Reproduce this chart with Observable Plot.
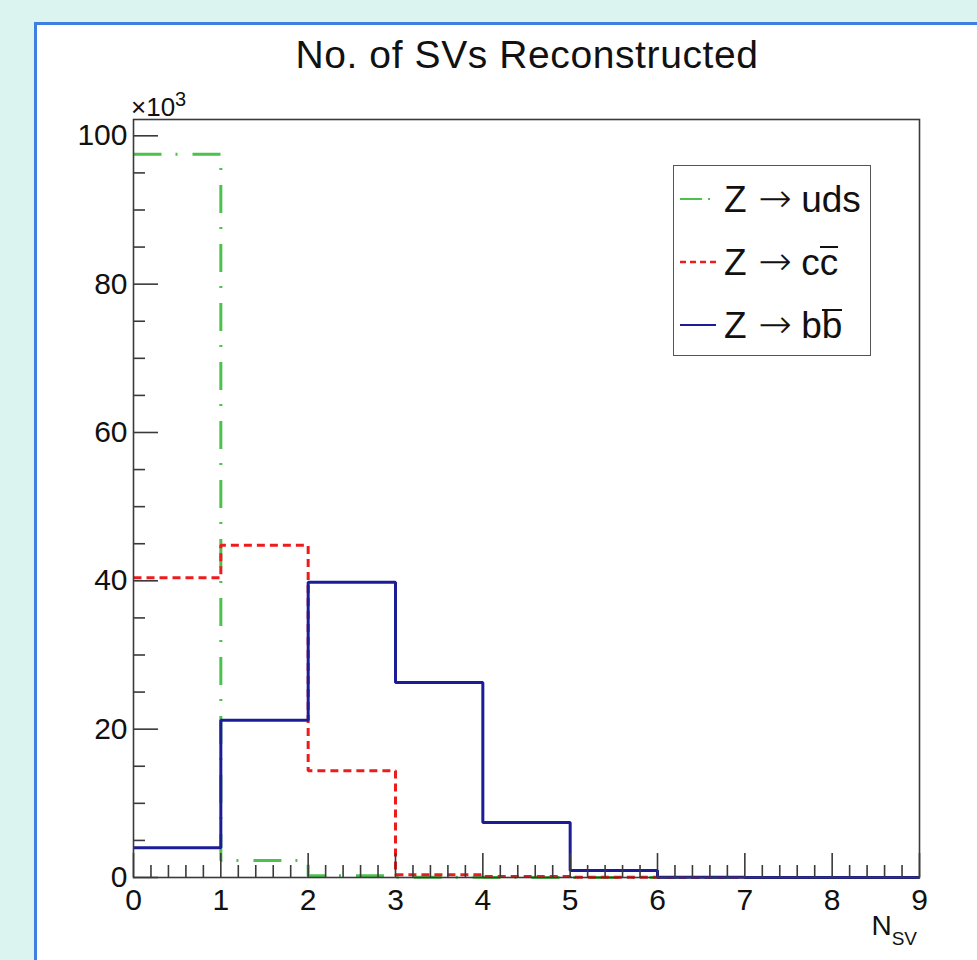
<!DOCTYPE html>
<html>
<head>
<meta charset="utf-8">
<script src="https://cdn.jsdelivr.net/npm/d3@7"></script>
<script src="https://cdn.jsdelivr.net/npm/@observablehq/plot@0.6"></script>
<style>
  html, body { margin: 0; padding: 0; }
  body { width: 977px; height: 960px; overflow: hidden; background: #dcf4f0; position: relative;
         font-family: "Liberation Sans", Arial, sans-serif; color: #111; }
  #panel { position: absolute; left: 34px; top: 22px; width: 1000px; height: 1000px;
           background: #fff; border: 3px solid #3f7fe2; box-sizing: border-box; }
  #chart { position: absolute; left: 0; top: 0; }
  .title { position: absolute; left: 0; width: 1054px; top: 35px; text-align: center;
           font-size: 39px; line-height: 39px; letter-spacing: 0.6px; }
  .mult { position: absolute; left: 131px; top: 94px; font-size: 26px; line-height: 26px; }
  .mult sup { font-size: 20px; position: relative; top: -8px; vertical-align: top; }
  .xlabel { position: absolute; right: 60px; top: 912px; font-size: 28px; line-height: 28px; }
  .xlabel sub { font-size: 19px; vertical-align: baseline; position: relative; top: 10px; }
  #legend { position: absolute; left: 673px; top: 165px; width: 198px; height: 191px;
            border: 1.5px solid #555; box-sizing: border-box; background: #fff; }
  .row { position: absolute; left: 0; height: 63px; display: flex; align-items: center; }
  .row svg { margin-left: 6px; margin-right: 8px; }
  .row span.t { font-size: 37px; line-height: 37px; white-space: nowrap; }
  .arr { font-family: "DejaVu Sans ExtraLight", "DejaVu Sans", sans-serif; font-weight: 200;
         font-size: 40px; margin-left: 12px; margin-right: 9px; }
  .ov { display: inline-block; border-top: 2px solid #111; line-height: 0.8em; }
</style>
</head>
<body>
<div id="panel"></div>
<div id="chart"></div>
<div class="title">No. of SVs Reconstructed</div>
<div class="mult">×10<sup>3</sup></div>
<div class="xlabel">N<sub>SV</sub></div>
<div id="legend"></div>
<script>
// ---- data (counts in thousands) ----
const binEdges = [0, 1, 2, 3, 4, 5, 6, 7, 8, 9];
const udsCounts = [97.5, 2.3, 0.22, 0.04, 0.01, 0, 0, 0, 0];
const ccCounts  = [40.4, 44.8, 14.4, 0.38, 0.15, 0.03, 0, 0, 0];
const bbCounts  = [4.0, 21.2, 39.8, 26.3, 7.4, 0.95, 0.03, 0, 0];
const seriesNames = ["Z → uds", "Z → cc̄", "Z → bb̄"];
const xTickLabels = [0, 1, 2, 3, 4, 5, 6, 7, 8, 9];
const yTickLabels = [0, 20, 40, 60, 80, 100];

const xMinor = d3.range(0, 9.0001, 0.2).filter(v => Math.abs(v - Math.round(v)) > 1e-6);
const yMinor = d3.range(0, 100.001, 5).filter(v => v % 20 !== 0);

function steps(counts) {
  const pts = counts.map((v, i) => ({x: binEdges[i], y: v}));
  pts.push({x: binEdges[counts.length], y: counts[counts.length - 1]});
  return pts;
}

const green = "#4cc24c", red = "#ec1c1c", blue = "#1c1c98";
const axisColor = "#3a3a3a";

const chart = Plot.plot({
  width: 977,
  height: 960,
  marginLeft: 133,
  marginRight: 58,
  marginTop: 119,
  marginBottom: 83,
  style: {background: "transparent", fontFamily: "Liberation Sans, Arial, sans-serif", fontSize: "30px", color: "#111"},
  x: {domain: [0, 9], label: null},
  y: {domain: [0, 102.2], label: null},
  marks: [
    Plot.lineY(steps(udsCounts), {x: "x", y: "y", curve: "step-after", stroke: green, strokeWidth: 3,
      strokeDasharray: "28,14,2,15", strokeLinecap: "butt", strokeLinejoin: "miter"}),
    Plot.lineY(steps(ccCounts), {x: "x", y: "y", curve: "step-after", stroke: red, strokeWidth: 3,
      strokeDasharray: "8,5", strokeLinecap: "butt", strokeLinejoin: "miter"}),
    Plot.lineY(steps(bbCounts), {x: "x", y: "y", curve: "step-after", stroke: blue, strokeWidth: 3,
      strokeLinecap: "butt", strokeLinejoin: "miter"}),
    Plot.frame({stroke: axisColor, strokeWidth: 1.6}),
    Plot.axisY({ticks: yTickLabels, tickSize: -25, fill: "none", stroke: axisColor, strokeWidth: 1.6, label: null}),
    Plot.axisY({ticks: yMinor, tickSize: -12, fill: "none", stroke: axisColor, strokeWidth: 1.6, label: null}),
    Plot.axisY({ticks: yTickLabels, tickSize: 0, tickPadding: 6, fontSize: 30, fill: "#111", label: null, tickFormat: d => String(d)}),
    Plot.axisX({ticks: xTickLabels, tickSize: -24, fill: "none", stroke: axisColor, strokeWidth: 1.6, label: null}),
    Plot.axisX({ticks: xMinor, tickSize: -12, fill: "none", stroke: axisColor, strokeWidth: 1.6, label: null}),
    Plot.axisX({ticks: xTickLabels, tickSize: 0, tickPadding: 11, fontSize: 30, fill: "#111", label: null, tickFormat: d => String(d)})
  ]
});
document.getElementById("chart").appendChild(chart);

// ---- legend ----
const legendItems = [
  {html: "Z<span class=\"arr\">→</span>uds", color: green, dash: "22,6,2,6", width: 2},
  {html: "Z<span class=\"arr\">→</span>c<span class=\"ov\">c</span>", color: red, dash: "6,4", width: 2.5},
  {html: "Z<span class=\"arr\">→</span>b<span class=\"ov\">b</span>", color: blue, dash: null, width: 2}
];
const legend = document.getElementById("legend");
legendItems.forEach((it, i) => {
  const row = document.createElement("div");
  row.className = "row";
  row.style.top = (1 + i * 63) + "px";
  row.innerHTML =
    `<svg width="36" height="10"><line x1="0" x2="36" y1="5" y2="5" stroke="${it.color}" stroke-width="${it.width}" ${it.dash ? `stroke-dasharray="${it.dash}"` : ""}/></svg>` +
    `<span class="t">${it.html}</span>`;
  legend.appendChild(row);
});
</script>
</body>
</html>
